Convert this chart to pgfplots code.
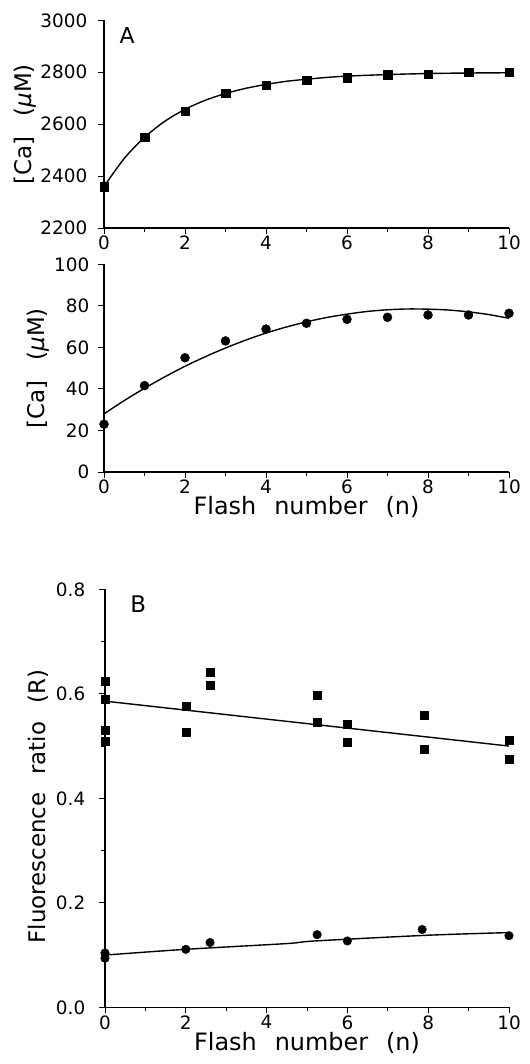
\documentclass[border=0pt]{standalone}
\usepackage{fontspec}
\setmainfont{DejaVu Sans}
\usepackage{pgfplots}
\pgfplotsset{compat=1.18}

\pgfplotstableread{
x y
0 2358
1 2550
2 2650
3 2720
4 2750
5 2770
6 2780
7 2790
8 2792
9 2800
10 2800
}\topdata

\pgfplotstableread{
x y
0 2360
0.5 2468
1 2549
1.5 2611
2 2657
2.5 2692
3 2718
3.5 2738
4 2753
4.5 2765
5 2773
5.5 2780
6 2785
7 2791
8 2795
9 2797
10 2798
}\topfit

\pgfplotstableread{
x y
0 23.0
1 41.6
2 55.0
3 63.1
4 68.8
5 71.6
6 73.5
7 74.5
8 75.6
9 75.6
10 76.4
}\middata

\pgfplotstableread{
x y
0 28.0
0.5 34.4
1 40.3
1.5 45.8
2 50.9
2.5 55.5
3 59.7
3.5 63.5
4 66.9
4.5 69.8
5 72.3
5.5 74.4
6 76.0
6.5 77.3
7 78.1
7.5 78.5
8 78.4
8.5 78.0
9 77.1
9.5 75.8
10 74.0
}\midfit

\pgfplotstableread{
x y
0 0.624
0 0.589
0 0.530
0 0.509
2 0.576
2 0.527
2.6 0.641
2.6 0.616
5.25 0.597
5.25 0.546
6 0.541
6 0.507
7.9 0.559
7.9 0.494
10 0.511
10 0.474
}\bsq

\pgfplotstableread{
x y
0 0.586
10 0.500
}\bsqfit

\pgfplotstableread{
x y
0 0.104
0 0.094
2 0.111
2.6 0.124
5.25 0.139
6 0.127
7.85 0.149
10 0.137
}\bci

\pgfplotstableread{
x y
0 0.100
2 0.111
4.5 0.122
5.2 0.127
8 0.138
10 0.143
}\bcifit

\pgfplotsset{
  panel/.style={
    scale only axis, width=405bp,
    axis lines*=left,
    xmin=0, xmax=10, xtick={0,2,...,10}, minor xtick={1,3,...,9},
    tick align=outside,
    major tick length=6bp, minor tick length=4bp,
    every tick/.style={black, line width=1bp},
    axis line style={black, line width=1.3bp},
    tick label style={font=\fontsize{18.5}{18.5}\selectfont},
    /pgf/number format/assume math mode=true,
    /pgf/number format/1000 sep={},
    xticklabel style={inner sep=2bp},
    yticklabel style={inner sep=2.5bp},
    clip=false,
  },
  fitline/.style={black, line width=1.4bp, no marks, smooth},
  sqmark/.style={only marks, mark=square*, mark size=4.3bp, mark options={fill=black, draw=black}},
  cimark/.style={only marks, mark=*, mark size=4.5bp, mark options={fill=black, draw=black}},
}
\newcommand{\xlab}{\fontsize{24}{24}\selectfont Flash\hspace{18bp}number\hspace{18bp}(n)}
\newcommand{\calab}{\fontsize{23}{23}\selectfont [Ca]\hspace{20bp}(\textit{μ}M)}

\begin{document}
\begin{tikzpicture}
\useasboundingbox (0,0) rectangle (530bp,-1064bp);

% Panel A top
\begin{axis}[panel, height=207.7bp, at={(104bp,-228bp)}, anchor=south west,
  ymin=2200, ymax=3000, ytick={2200,2400,...,3000},
  yticklabel style={xshift=-8bp},
  ylabel={\calab},
  ylabel style={at={(axis description cs:-0.195,0.5)}, anchor=center}]
\addplot[fitline] table[x=x,y=y] {\topfit};
\addplot[sqmark] table[x=x,y=y] {\topdata};
\node[font=\fontsize{22}{22}\selectfont] at (axis cs:0.57,2943) {A};
\end{axis}

% Panel A bottom
\begin{axis}[panel, height=207.7bp, at={(104bp,-472bp)}, anchor=south west,
  ymin=0, ymax=100, ytick={0,20,...,100},
  yticklabel style={xshift=-6bp},
  xlabel={\xlab},
  xlabel style={yshift=3bp},
  ylabel={\calab},
  ylabel style={at={(axis description cs:-0.163,0.5)}, anchor=center}]
\addplot[fitline] table[x=x,y=y] {\midfit};
\addplot[cimark] table[x=x,y=y] {\middata};
\end{axis}

% Panel B
\begin{axis}[panel, width=404bp, height=418bp, at={(105bp,-1007.3bp)}, anchor=south west,
  ymin=0, ymax=0.8, ytick={0,0.2,...,0.8}, minor ytick={0.1,0.3,0.5,0.7},
  yticklabel style={xshift=-11bp, /pgf/number format/.cd, fixed, fixed zerofill, precision=1},
  xlabel={\xlab},
  xlabel style={yshift=3bp},
  ylabel={\fontsize{23}{23}\selectfont Fluorescence\hspace{18bp}ratio\hspace{18bp}(R)},
  ylabel style={at={(axis description cs:-0.165,0.48)}, anchor=center}]
\addplot[fitline] table[x=x,y=y] {\bsqfit};
\addplot[fitline] table[x=x,y=y] {\bcifit};
\addplot[sqmark, mark size=4bp] table[x=x,y=y] {\bsq};
\addplot[cimark, mark size=4.3bp] table[x=x,y=y] {\bci};
\node[font=\fontsize{23}{23}\selectfont] at (axis cs:0.82,0.772) {B};
\end{axis}
\end{tikzpicture}
\end{document}
